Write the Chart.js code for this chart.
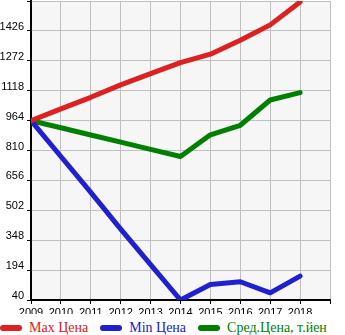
<!DOCTYPE html>
<html><head><meta charset="utf-8">
<script src="https://cdn.jsdelivr.net/npm/chart.js@4"></script>
<style>
html,body{margin:0;padding:0;background:#fff;width:345px;height:335px;overflow:hidden}
#wrap{position:relative;width:345px;height:314px}
#legend{display:flex;align-items:center;height:22px;font:14px "Liberation Serif",serif;white-space:nowrap;margin-top:3px}
#legend .it{display:flex;align-items:center;margin-right:12px}
#legend .sw{width:22px;height:6px;border-radius:3px;margin-right:7px}
</style></head>
<body>
<div id="wrap"><canvas id="c" width="345" height="314"></canvas></div>
<div id="legend"></div>
<script>
const years = [2009,2010,2011,2012,2013,2014,2015,2016,2017,2018];
const seriesNames = ['Max Цена','Min Цена','Сред.Цена, т.йен'];
const seriesColors = ['#dd2020','#2020d0','#008000'];
const maxPrice = [964,1024,1084,1148,1206,1263,1306,1378,1457,1575];
const minPrice = [964,779,594,405,222,40,120,134,77,163];
const avgPrice = [964,927,890,853,816,779,891,940,1070,1108];
const yTicks = [40,194,348,502,656,810,964,1118,1272,1426,1580];

const series = [maxPrice,minPrice,avgPrice];
const bgPlugin = {id:'bg',beforeDraw(ch){const a=ch.chartArea,c=ch.ctx;c.save();c.fillStyle='#f6f6f6';c.fillRect(a.left,a.top,a.right-a.left,a.bottom-a.top);c.restore();}};

new Chart(document.getElementById('c'),{
  type:'line',
  data:{datasets:series.map((s,i)=>({label:seriesNames[i],data:years.map((y,j)=>({x:y,y:s[j]})),borderColor:seriesColors[i],backgroundColor:seriesColors[i],borderWidth:5,pointRadius:0,tension:0,borderJoinStyle:'round',borderCapStyle:'round'}))},
  options:{
    responsive:false,animation:false,
    layout:{padding:{left:0,right:15,top:1,bottom:0}},
    plugins:{legend:{display:false},tooltip:{enabled:false}},
    scales:{
      x:{type:'linear',min:2009,max:2019,
        afterFit(s){s.height=14;s.paddingLeft=0;s.paddingRight=0;},
        ticks:{stepSize:1,autoSkip:false,maxRotation:0,padding:2,color:'#000',font:{family:'Liberation Sans',size:11},callback:v=>years.includes(v)?String(v):''},
        grid:{color:'#c0c0c0',lineWidth:1,tickLength:4,tickColor:'#000'},
        border:{color:'#000',width:2}},
      y:{min:yTicks[0],max:yTicks[yTicks.length-1],
        afterFit(s){s.width=31;s.paddingTop=0;s.paddingBottom=0;},
        afterBuildTicks(s){s.ticks=yTicks.map(v=>({value:v}));},
        ticks:{padding:3,labelOffset:-4,color:'#000',font:{family:'Liberation Sans',size:11},callback:v=>v===1580?'':String(v)},
        grid:{color:'#c0c0c0',lineWidth:1,tickLength:4,tickColor:'#000'},
        border:{color:'#000',width:2}}
    }
  },
  plugins:[bgPlugin]
});

const lg=document.getElementById('legend');
seriesNames.forEach((n,i)=>{const it=document.createElement('div');it.className='it';
  const sw=document.createElement('span');sw.className='sw';sw.style.background=seriesColors[i];
  const t=document.createElement('span');t.textContent=n;t.style.color=seriesColors[i];
  it.appendChild(sw);it.appendChild(t);lg.appendChild(it);});
</script>
</body></html>
